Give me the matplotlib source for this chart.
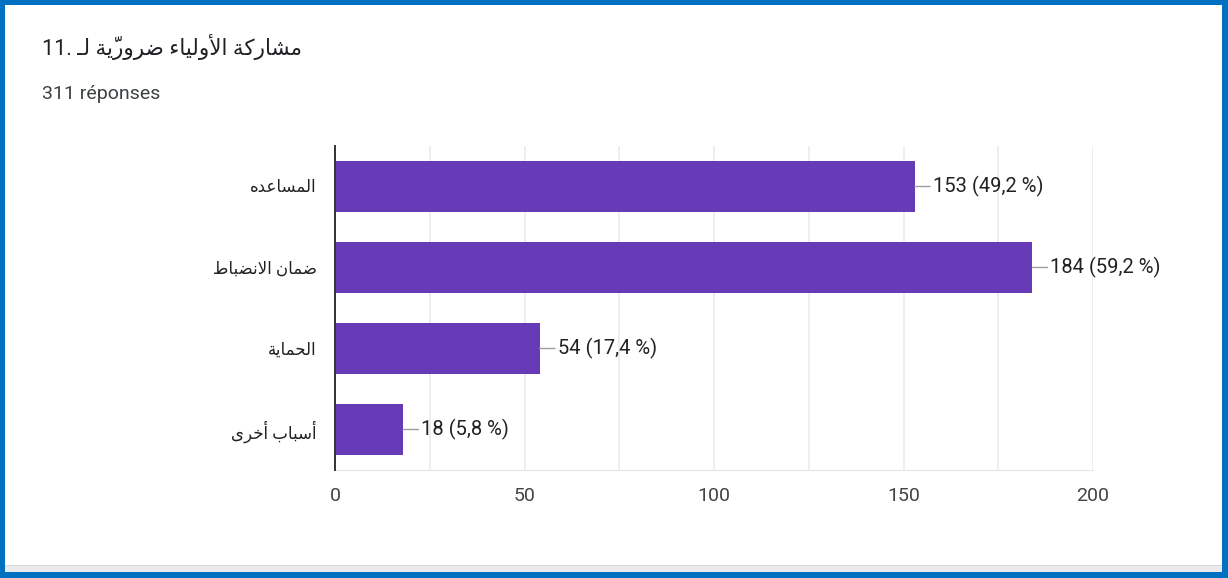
import matplotlib
matplotlib.use("Agg")
import matplotlib.pyplot as plt
from matplotlib.patches import Rectangle

# data
categories = ["المساعده", "ضمان الانضباط", "الحماية", "أسباب أخرى"]
counts = [153, 184, 54, 18]
percents = ["49,2", "59,2", "17,4", "5,8"]
title_ar = "مشاركة الأولياء ضروريّة لـ"
title_num = "11."
subtitle = "311 réponses"
xticks = [0, 50, 100, 150, 200]

# --- tiny arabic shaper (no arabic_reshaper in the sandbox) ---
FOUR = {0x0626: 0xFE89, 0x0628: 0xFE8F, 0x062A: 0xFE95, 0x062B: 0xFE99, 0x062C: 0xFE9D,
        0x062D: 0xFEA1, 0x062E: 0xFEA5, 0x0633: 0xFEB1, 0x0634: 0xFEB5, 0x0635: 0xFEB9,
        0x0636: 0xFEBD, 0x0637: 0xFEC1, 0x0638: 0xFEC5, 0x0639: 0xFEC9, 0x063A: 0xFECD,
        0x0641: 0xFED1, 0x0642: 0xFED5, 0x0643: 0xFED9, 0x0644: 0xFEDD, 0x0645: 0xFEE1,
        0x0646: 0xFEE5, 0x0647: 0xFEE9, 0x064A: 0xFEF1}
TWO = {0x0622: 0xFE81, 0x0623: 0xFE83, 0x0624: 0xFE85, 0x0625: 0xFE87, 0x0627: 0xFE8D,
       0x0629: 0xFE93, 0x062F: 0xFEA9, 0x0630: 0xFEAB, 0x0631: 0xFEAD, 0x0632: 0xFEAF,
       0x0648: 0xFEED, 0x0649: 0xFEEF}
LAMALEF = {0x0622: 0xFEF5, 0x0623: 0xFEF7, 0x0625: 0xFEF9, 0x0627: 0xFEFB}
TATWEEL = 0x0640


def shape(text):
    clusters = []
    for ch in text:
        if 0x064B <= ord(ch) <= 0x0652 and clusters:
            clusters[-1][1].append(ch)
        else:
            clusters.append([ord(ch), []])
    # lam-alef ligatures
    merged = []
    i = 0
    while i < len(clusters):
        c = clusters[i]
        if c[0] == 0x0644 and i + 1 < len(clusters) and clusters[i + 1][0] in LAMALEF:
            merged.append([("LA", LAMALEF[clusters[i + 1][0]]), c[1] + clusters[i + 1][1]])
            i += 2
        else:
            merged.append(c)
            i += 1

    def dual(b):
        return b in FOUR or b == TATWEEL

    def joinable(b):
        return isinstance(b, tuple) or b in FOUR or b in TWO or b == TATWEEL

    out = []
    for k, (b, marks) in enumerate(merged):
        prev = k > 0 and not isinstance(merged[k - 1][0], tuple) and dual(merged[k - 1][0]) and joinable(b)
        nxt = (not isinstance(b, tuple)) and dual(b) and k + 1 < len(merged) and joinable(merged[k + 1][0])
        if isinstance(b, tuple):
            g = chr(b[1] + (1 if prev else 0))
        elif b == TATWEEL:
            g = chr(b)
        elif b in FOUR:
            base = FOUR[b]
            g = chr(base + (3 if prev and nxt else 1 if prev else 2 if nxt else 0))
        elif b in TWO:
            g = chr(TWO[b] + (1 if prev else 0))
        else:
            g = chr(b)
        out.append(g + "".join(marks))
    return "".join(reversed(out))


fam = ["Roboto", "DejaVu Sans"]
plt.rcParams["font.family"] = fam

W, H = 1228, 578
fig = plt.figure(figsize=(W / 100, H / 100), dpi=100)
fig.patch.set_facecolor("white")

ax = fig.add_axes([335 / W, 1 - 470 / H, (1093 - 335) / W, (470 - 146) / H])
y = list(range(len(categories)))
ax.barh(y, counts, height=0.62, color="#673AB7", zorder=3)
ax.set_ylim(len(categories) - 0.5, -0.5)
ax.set_xlim(0, 200)
ax.set_xticks(xticks)
ax.set_xticks(range(0, 201, 25), minor=True)
ax.grid(axis="x", which="both", color="#ebebeb", lw=1.2, zorder=0)
ax.set_yticks(y)
ax.set_yticklabels([shape(c) for c in categories], fontsize=12, color="#222222")
ax.tick_params(axis="y", length=0, pad=13)
ax.tick_params(axis="x", which="both", length=0, pad=12, labelsize=14, labelcolor="#444444")
for s in ["top", "right"]:
    ax.spines[s].set_visible(False)
ax.spines["bottom"].set_color("#e6e6e6")
ax.spines["left"].set_color("#333333")
ax.spines["left"].set_linewidth(1.4)
ax.spines["left"].set_zorder(4)

for yi, c, p in zip(y, counts, percents):
    ax.annotate(f"{c} ({p} %)", xy=(c, yi), xytext=(13, 0), textcoords="offset points",
                va="center", ha="left", fontsize=14.5, color="#222222", zorder=5,
                arrowprops=dict(arrowstyle="-", color="#9e9e9e", lw=1, shrinkA=0, shrinkB=0))

fig.text(42 / W, 1 - 47 / H, title_num + " " + shape(title_ar), fontsize=15.5, color="#202124",
         va="center", ha="left")
fig.text(42 / W, 1 - 94 / H, subtitle, fontsize=14, color="#3c4043", va="center", ha="left")

# card frame
tr = fig.transFigure
fig.add_artist(Rectangle((0, 6 / H), 1, 7 / H, transform=tr, color="#e9e9ee", lw=0))
fig.add_artist(Rectangle((0, 12 / H), 1, 1.5 / H, transform=tr, color="#d8d8d8", lw=0))
fig.add_artist(Rectangle((0, 0), 1, 6 / H, transform=tr, color="#0070C0", lw=0))
fig.add_artist(Rectangle((0, 1 - 5 / H), 1, 5 / H, transform=tr, color="#0070C0", lw=0))
fig.add_artist(Rectangle((0, 0), 5 / W, 1, transform=tr, color="#0070C0", lw=0))
fig.add_artist(Rectangle((1 - 6 / W, 0), 6 / W, 1, transform=tr, color="#0070C0", lw=0))

fig.savefig("out.png", dpi=100)
